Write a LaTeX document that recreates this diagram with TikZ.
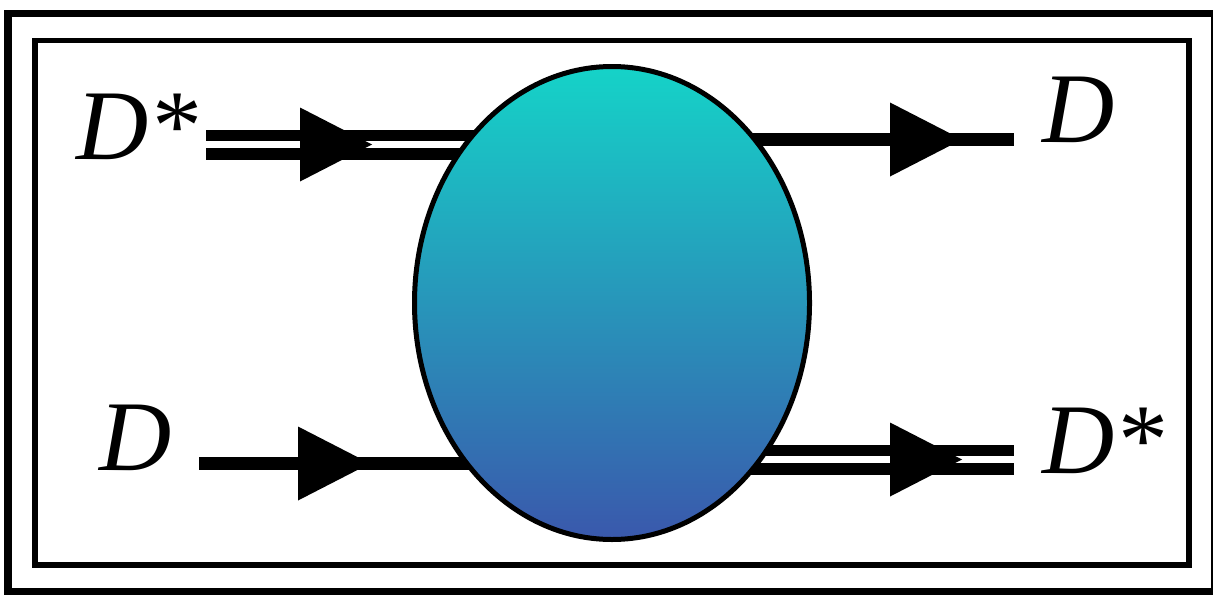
\documentclass[tikz,border=0pt]{standalone}
\usepackage{fontspec}
\setmainfont{Liberation Serif}
\usetikzlibrary{shapes.geometric,decorations.markings}

\definecolor{blobtop}{RGB}{21,211,200}
\definecolor{blobbot}{RGB}{58,88,172}

\begin{document}
\begin{tikzpicture}[
  x=0.5pt,
  y=-0.5pt,
  frame/.style={draw=black, line width=3.75pt},
  innerframe/.style={draw=black, line width=2.75pt},
  meson/.style={draw=black, line width=6.5pt},
  vmeson/.style={draw=black, line width=5.75pt, double=white, double distance=3.5pt},
  flow/.style={
    postaction={decorate},
    decoration={markings,
      mark=at position #1 with {\fill[black] (-72,-37) -- (0,0) -- (-72,37) -- cycle;}}
  },
  blob/.style={
    ellipse,
    draw=black,
    line width=2.5pt,
    top color=blobtop,
    bottom color=blobbot,
    minimum width=197.5pt,
    minimum height=236.5pt,
    inner sep=0pt
  },
  particle/.style={
    font=\fontsize{50}{60}\selectfont,
    inner sep=0pt,
    anchor=base west
  }
]

\useasboundingbox (0,0) rectangle (1213,594);

% frames
\draw[frame] (8,13.5) rectangle (1215,591.5);
\draw[innerframe] (34.8,40.3) rectangle (1189,565);

% free ends of the four legs and the blob centre
\coordinate (c) at (612,303);
\coordinate (inA)  at (206,144.5);
\coordinate (inB)  at (199,463.5);
\coordinate (outA) at (1014,139.5);
\coordinate (outB) at (1014,459.5);

\draw[vmeson, flow=83pt]  (inA) -- (inA -| c);
\draw[meson,  flow=85.5pt] (inB) -- (inB -| c);
\draw[meson,  flow=175pt] (outA -| c) -- (outA);
\draw[vmeson, flow=175pt] (outB -| c) -- (outB);

\node[blob] (amp) at (c) {};

\node[particle] (lblA)  at (76,159)    {\itshape D\upshape\kern2pt*};
\node[particle] (lblB)  at (99,470.7)  {\itshape D};
\node[particle] (lblC)  at (1042,142.7) {\itshape D};
\node[particle] (lblD)  at (1042,473)  {\itshape D\upshape\kern2pt*};

\end{tikzpicture}
\end{document}
